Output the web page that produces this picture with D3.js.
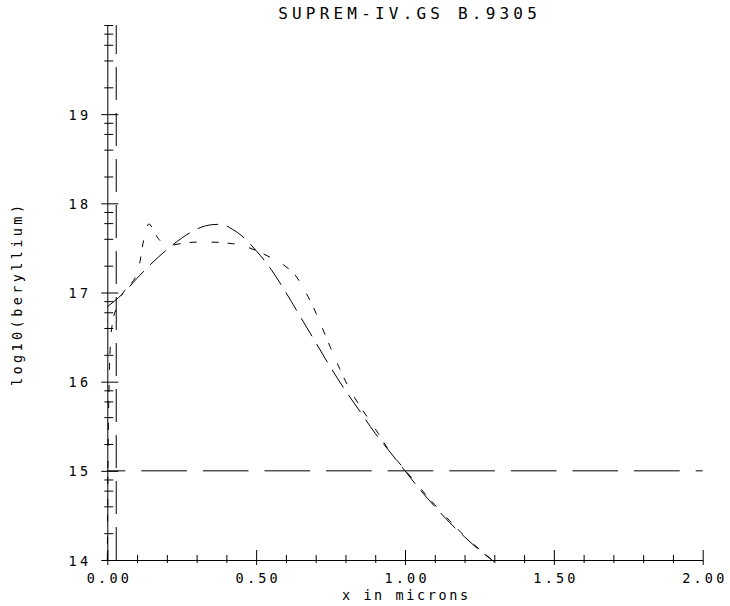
<!DOCTYPE html>
<html>
<head>
<meta charset="utf-8">
<script src="https://cdnjs.cloudflare.com/ajax/libs/d3/7.8.5/d3.min.js"></script>
<style>
  body { margin: 0; background: white; }
  svg text { font-family: 'DejaVu Sans Mono', monospace; fill: black; }
</style>
</head>
<body>
<div id="chart"></div>
<script>
// chart text
const title = 'SUPREM-IV.GS B.9305';
const xTitle = 'x in microns';
const yTitle = 'log10(beryllium)';

// axes
const xTicks = [0, 0.5, 1.0, 1.5, 2.0];
const xTickLabels = ['0.00', '0.50', '1.00', '1.50', '2.00'];
const xMinorTicks = [0.1, 0.2, 0.3, 0.4, 0.6, 0.7, 0.8, 0.9, 1.1, 1.2, 1.3, 1.4, 1.6, 1.7, 1.8, 1.9];
const yTicks = [14, 15, 16, 17, 18, 19];
const yTickLabels = ['14', '15', '16', '17', '18', '19'];
const yMinorMantissa = [2, 4, 6, 8];
const yTop = 20;

// long-dash profile
const xLong = [0, 0.05, 0.10, 0.15, 0.20, 0.25, 0.30, 0.35, 0.38, 0.42, 0.45, 0.50, 0.55, 0.60, 0.65, 0.70,
  0.75, 0.80, 0.85, 0.90, 0.95, 1.00, 1.05, 1.10, 1.15, 1.20, 1.25, 1.30];
const yLong = [16.84, 16.98, 17.16, 17.33, 17.48, 17.61, 17.71, 17.76, 17.765, 17.71, 17.64, 17.47, 17.26, 17.00, 16.72, 16.44,
  16.16, 15.90, 15.66, 15.42, 15.21, 15.00, 14.79, 14.60, 14.42, 14.26, 14.11, 13.98];

// short-dash profile
const xShort = [0, 0.003, 0.007, 0.012, 0.017, 0.03, 0.05, 0.08, 0.10, 0.11, 0.12, 0.13, 0.14, 0.15, 0.17, 0.185,
  0.21, 0.25, 0.30, 0.35, 0.40, 0.45, 0.50, 0.55, 0.60, 0.63, 0.66, 0.69, 0.72, 0.75, 0.78, 0.81, 0.85, 0.88,
  0.91, 0.95, 0.98, 1.00, 1.05, 1.10, 1.15, 1.20, 1.25, 1.30];
const yShort = [14.0, 15.3, 16.1, 16.5, 16.65, 16.82, 16.98, 17.10, 17.22, 17.35, 17.55, 17.70, 17.77, 17.73, 17.61, 17.56,
  17.53, 17.55, 17.565, 17.565, 17.555, 17.53, 17.47, 17.39, 17.29, 17.20, 17.04, 16.85, 16.62, 16.38, 16.15, 15.94, 15.72, 15.57,
  15.42, 15.21, 15.09, 15.01, 14.81, 14.62, 14.44, 14.27, 14.12, 13.98];

// reference lines
const refLevel = 15;
const interfaceX = 0.03;

function main() {
  var width = 730, height = 606;
  var svg = d3.select('#chart').append('svg')
    .attr('width', width)
    .attr('height', height);

  var x = d3.scaleLinear().domain([0, 2]).range([107.3, 702.7]);
  var y = d3.scaleLinear().domain([14, yTop]).range([560, 25]);

  var lsTick = 3.2;

  // x axis
  var xAxis = svg.append('g')
    .attr('transform', 'translate(0,' + y(14) + ')')
    .call(d3.axisBottom(x).tickValues(xTicks).tickFormat((d, i) => xTickLabels[i]).tickSizeOuter(0));
  xAxis.attr('font-family', null).attr('font-size', null);
  xAxis.select('.domain').attr('stroke', 'black');
  xAxis.selectAll('.tick line').attr('stroke', 'black').attr('y1', -10).attr('y2', 5);
  xAxis.selectAll('.tick text')
    .attr('y', 22.7).attr('dy', 0).attr('dx', lsTick / 2)
    .style('font-size', '13.5px').style('letter-spacing', lsTick + 'px');

  var xMinor = svg.append('g')
    .attr('transform', 'translate(0,' + y(14) + ')')
    .call(d3.axisBottom(x).tickValues(xMinorTicks).tickFormat('').tickSizeOuter(0));
  xMinor.select('.domain').remove();
  xMinor.selectAll('.tick line').attr('stroke', 'black').attr('y1', -5).attr('y2', 3);

  // y axis
  var yAxis = svg.append('g')
    .attr('transform', 'translate(' + x(0) + ',0)')
    .call(d3.axisLeft(y).tickValues(yTicks).tickFormat((d, i) => yTickLabels[i]).tickSizeOuter(0));
  yAxis.attr('font-family', null).attr('font-size', null);
  yAxis.select('.domain').attr('stroke', 'black');
  yAxis.selectAll('.tick line').attr('stroke', 'black').attr('x1', -6).attr('x2', 11);
  yAxis.selectAll('.tick text')
    .attr('x', -16.1).attr('dy', '0.37em')
    .style('font-size', '13.5px').style('letter-spacing', lsTick + 'px');

  var yMinorTicks = yTicks.flatMap((d) => yMinorMantissa.map((m) => d + Math.log10(m)));
  var yMinor = svg.append('g')
    .attr('transform', 'translate(' + x(0) + ',0)')
    .call(d3.axisLeft(y).tickValues(yMinorTicks.concat([yTop])).tickFormat('').tickSizeOuter(0));
  yMinor.select('.domain').remove();
  yMinor.selectAll('.tick line').attr('stroke', 'black').attr('x1', -3).attr('x2', 6);

  // reference lines
  svg.append('line')
    .attr('x1', x(0)).attr('x2', x(2))
    .attr('y1', y(refLevel)).attr('y2', y(refLevel))
    .attr('stroke', 'black')
    .attr('stroke-dasharray', '45.6,16')
    .attr('stroke-dashoffset', 27.6);

  svg.append('line')
    .attr('x1', x(interfaceX)).attr('x2', x(interfaceX))
    .attr('y1', y(14)).attr('y2', y(yTop))
    .attr('stroke', 'black')
    .attr('stroke-dasharray', '33,13');

  // profiles
  var line = d3.line()
    .x((d) => x(d[0]))
    .y((d) => y(d[1]))
    .curve(d3.curveMonotoneX);

  var profiles = [
    { pts: d3.zip(xLong, yLong), dash: '21,9' },
    { pts: d3.zip(xShort, yShort), dash: '7,9,7,15' }
  ];

  svg.selectAll('.profile').data(profiles)
    .join('path')
    .attr('class', 'profile')
    .attr('d', (d) => line(d.pts))
    .attr('fill', 'none')
    .attr('stroke', 'black')
    .attr('stroke-width', 1)
    .attr('stroke-dasharray', (d) => d.dash);

  // titles
  svg.append('text')
    .attr('x', 407.5 + 2.1).attr('y', 19)
    .attr('text-anchor', 'middle')
    .style('font-size', '16px').style('letter-spacing', '4.2px')
    .text(title);

  svg.append('text')
    .attr('x', x(1) + 1.3).attr('y', 599.5)
    .attr('text-anchor', 'middle')
    .style('font-size', '13.5px').style('letter-spacing', '2.6px')
    .text(xTitle);

  svg.append('text')
    .attr('transform', 'translate(21.7,' + (295.5 - 1.7) + ') rotate(-90)')
    .attr('text-anchor', 'middle')
    .style('font-size', '13.5px').style('letter-spacing', '3.4px')
    .text(yTitle);
}

main();
</script>
</body>
</html>
